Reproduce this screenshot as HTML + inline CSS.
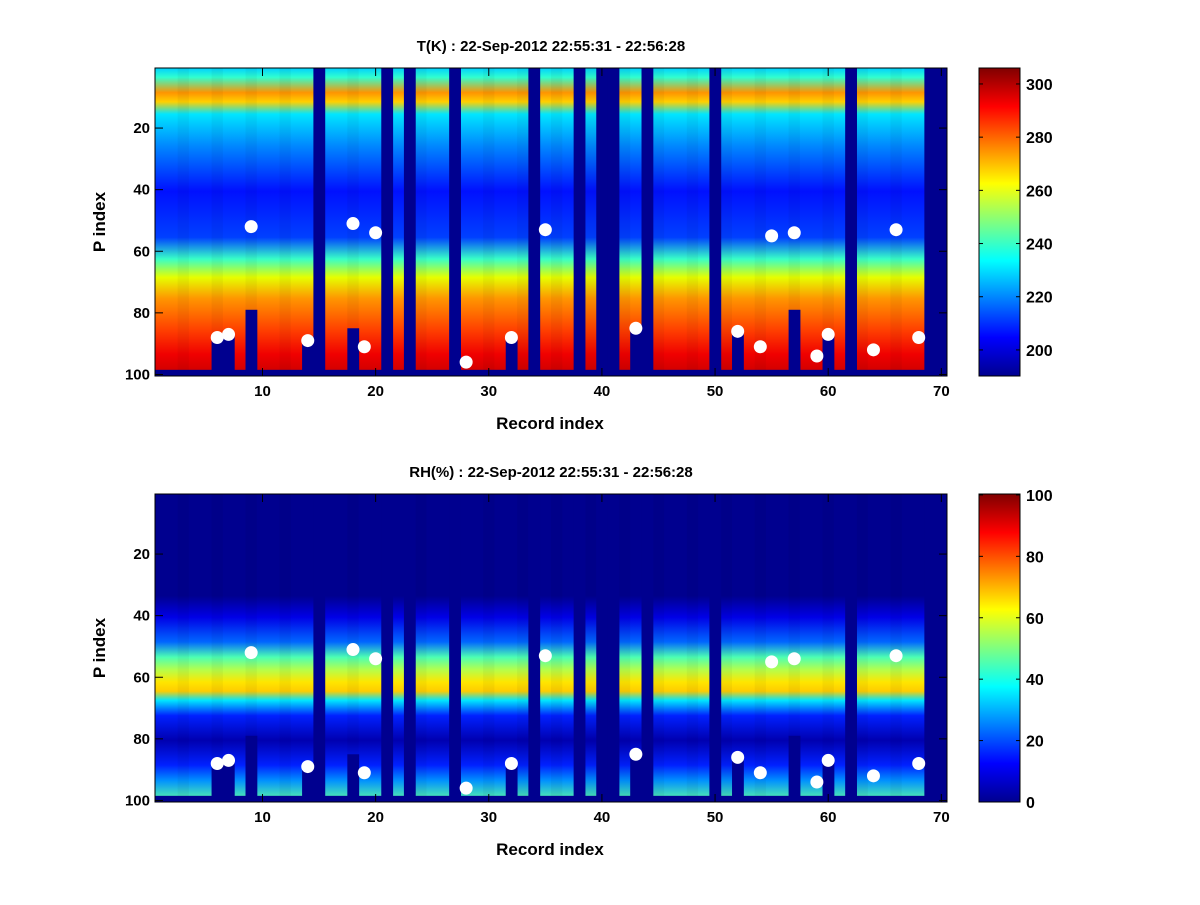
<!DOCTYPE html>
<html><head><meta charset="utf-8"><style>
body{margin:0;background:#fff;width:1200px;height:900px;overflow:hidden}
svg text{font-family:"Liberation Sans",sans-serif;font-weight:bold;fill:#000}
</style></head><body>
<svg id="s" width="1200" height="900" xmlns="http://www.w3.org/2000/svg">
<defs>
<linearGradient id="jet" x1="0" y1="1" x2="0" y2="0">
<stop offset="0" stop-color="#00008f"/><stop offset="0.125" stop-color="#0000ff"/>
<stop offset="0.375" stop-color="#00ffff"/><stop offset="0.625" stop-color="#ffff00"/>
<stop offset="0.875" stop-color="#ff0000"/><stop offset="1" stop-color="#800000"/>
</linearGradient>
<linearGradient id="gT" x1="0" y1="0" x2="0" y2="1">
<stop offset="0" stop-color="#00d0ff"/><stop offset="0.03" stop-color="#30ffd0"/>
<stop offset="0.08" stop-color="#ff9400"/><stop offset="0.11" stop-color="#ffd000"/>
<stop offset="0.15" stop-color="#00e6ff"/><stop offset="0.25" stop-color="#008aff"/>
<stop offset="0.40" stop-color="#0010ff"/><stop offset="0.55" stop-color="#0040ff"/>
<stop offset="0.62" stop-color="#38ffc7"/><stop offset="0.68" stop-color="#e6ff00"/>
<stop offset="0.75" stop-color="#ff9400"/><stop offset="0.85" stop-color="#ff4000"/>
<stop offset="0.93" stop-color="#f00000"/><stop offset="1" stop-color="#c80000"/>
</linearGradient>
<linearGradient id="gR" x1="0" y1="0" x2="0" y2="1">
<stop offset="0" stop-color="#00008f"/><stop offset="0.33" stop-color="#00008f"/>
<stop offset="0.40" stop-color="#0000e6"/><stop offset="0.48" stop-color="#0066ff"/>
<stop offset="0.53" stop-color="#4dffb3"/><stop offset="0.57" stop-color="#b3ff4d"/>
<stop offset="0.61" stop-color="#ffe600"/><stop offset="0.64" stop-color="#ffcc00"/>
<stop offset="0.67" stop-color="#00e6ff"/><stop offset="0.72" stop-color="#0020ff"/>
<stop offset="0.80" stop-color="#0000b0"/><stop offset="0.88" stop-color="#0020ff"/>
<stop offset="0.93" stop-color="#0090ff"/><stop offset="1" stop-color="#60ffa0"/>
</linearGradient>
</defs>
</svg>
<script>
var s=document.getElementById('s'),NS='http://www.w3.org/2000/svg';
function el(t,a,txt){var e=document.createElementNS(NS,t);for(var k in a)e.setAttribute(k,a[k]);if(txt!=null)e.textContent=txt;s.appendChild(e);return e;}
var X0=155,X1=947,dx=(X1-X0)/70;
function xr(r){return X0+(r-0.5)*dx;}
var full=[15,21,23,27,34,38,40,41,44,50,62,69,70];
var part={6:88,7:87,9:79,14:89,18:85,32:88,43:85,52:86,57:79,60:87};
var dots=[[6,88],[7,87],[9,52],[14,89],[18,51],[19,91],[20,54],[28,96],[32,88],[35,53],[43,85],[52,86],[54,91],[55,55],[57,54],[59,94],[60,87],[64,92],[66,53],[68,88]];
function panel(Y0,grad,title,cbTicks,cmin,cmax){
 var H=308,Y1=Y0+H,dy=H/100;
 function yp(p){return Y0+(p-0.5)*dy;}
 el('rect',{x:X0,y:Y0,width:X1-X0,height:H,fill:'url(#'+grad+')'});
 for(var r=1;r<=70;r++){if(r%3==0)el('rect',{x:xr(r-0.5),y:Y0,width:dx,height:H,fill:'#000','fill-opacity':0.04});}
 el('rect',{x:X0,y:yp(98.5),width:X1-X0,height:Y1-yp(98.5),fill:'#00008f'});
 full.forEach(function(r){el('rect',{x:xr(r-0.5),y:Y0,width:dx+0.5,height:H,fill:'#00008f'});});
 for(var r in part){el('rect',{x:xr(+r-0.5),y:yp(part[r]),width:dx+0.5,height:Y1-yp(part[r]),fill:'#00008f'});}
 dots.forEach(function(d){el('circle',{cx:xr(d[0]),cy:yp(d[1]),r:6.5,fill:'#fff'});});
 el('rect',{x:X0,y:Y0,width:X1-X0,height:H,fill:'none',stroke:'#000','stroke-width':1});
 for(var t=10;t<=70;t+=10){var x=xr(t);el('line',{x1:x,y1:Y1,x2:x,y2:Y1-8,stroke:'#000'});el('line',{x1:x,y1:Y0,x2:x,y2:Y0+8,stroke:'#000'});el('text',{x:x,y:Y1+20,'font-size':15,'text-anchor':'middle'},t);}
 for(var t=20;t<=100;t+=20){var y=yp(t);el('line',{x1:X0,y1:y,x2:X0+8,y2:y,stroke:'#000'});el('line',{x1:X1,y1:y,x2:X1-8,y2:y,stroke:'#000'});el('text',{x:X0-5,y:y+5,'font-size':15,'text-anchor':'end'},t);}
 el('text',{x:550,y:Y1+53,'font-size':17,'text-anchor':'middle'},'Record index');
 el('text',{x:105,y:Y0+H/2,'font-size':17,'text-anchor':'middle',transform:'rotate(-90 105 '+(Y0+H/2)+')'},'P index');
 el('text',{x:551,y:Y0-17,'font-size':15,'text-anchor':'middle'},title);
 var cx=979,cw=41;
 el('rect',{x:cx,y:Y0,width:cw,height:H,fill:'url(#jet)',stroke:'#000'});
 cbTicks.forEach(function(v){var y=Y1-(v-cmin)/(cmax-cmin)*H;el('line',{x1:cx,y1:y,x2:cx+4,y2:y,stroke:'#000'});el('line',{x1:cx+cw,y1:y,x2:cx+cw-4,y2:y,stroke:'#000'});el('text',{x:cx+cw+6,y:y+6,'font-size':16},v);});
}
panel(68,'gT','T(K) : 22-Sep-2012 22:55:31 - 22:56:28',[200,220,240,260,280,300],190.2,306);
panel(494,'gR','RH(%) : 22-Sep-2012 22:55:31 - 22:56:28',[0,20,40,60,80,100],0,100.3);
</script>
</body></html>
